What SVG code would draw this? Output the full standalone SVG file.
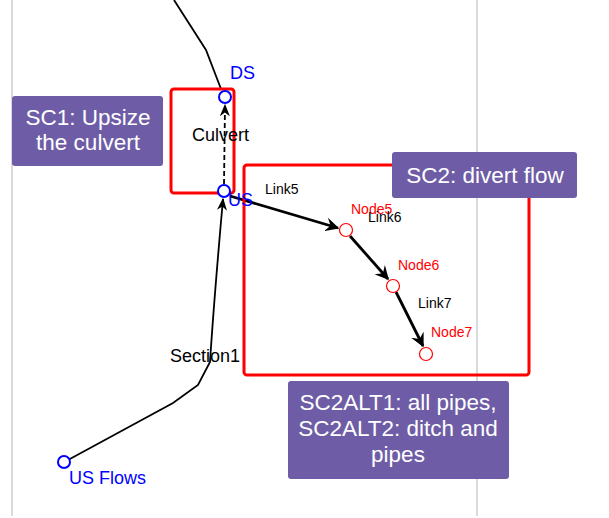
<svg xmlns="http://www.w3.org/2000/svg" width="609" height="518" viewBox="0 0 609 518">
<style>
.grid{stroke:#c0c0c0;stroke-width:1.2;fill:none}
.sec{stroke:#000;stroke-width:1.8;fill:none}
.link{stroke:#000;stroke-width:2.8;fill:none}
.bnode{fill:#fff;stroke:#0000ff;stroke-width:2}
.rnode{fill:#fff;stroke:#ff0000;stroke-width:1.2}
.blab{font-family:"Liberation Sans",Arial,sans-serif;font-size:18px;fill:#0000ff}
.rlab{font-family:"Liberation Sans",Arial,sans-serif;font-size:14px;fill:#ff0000}
.klab{font-family:"Liberation Sans",Arial,sans-serif;font-size:14px;fill:#000}
.mlab{font-family:"Liberation Sans",Arial,sans-serif;font-size:18px;fill:#000}
.box{fill:none;stroke:#ff0000;stroke-width:3}
.note{fill:#6e5da6}
.ntxt{font-family:"Liberation Sans",Arial,sans-serif;font-size:22.5px;fill:#fff;text-anchor:middle}
</style>
<defs>
<marker id="ah" viewBox="0 0 10 10" refX="9" refY="5" markerWidth="5" markerHeight="5" orient="auto" markerUnits="strokeWidth">
<path d="M0,0 L10,5 L0,10 L3.5,5 z" fill="#000"/>
</marker>
<marker id="ahs" viewBox="0 0 10 10" refX="9" refY="5" markerWidth="7" markerHeight="7" orient="auto" markerUnits="strokeWidth">
<path d="M0,1 L10,5 L0,9 L3,5 z" fill="#000"/>
</marker>
</defs>
<line class="grid" x1="12" y1="0" x2="12" y2="516"/>
<line class="grid" x1="477" y1="0" x2="477" y2="516"/>
<g id="connectors">
<polyline class="sec" points="174,0 206,50 221,89"/>
<path class="sec" d="M68,460 L173,403 L198,385 L210,362 Q214,300 223,199" marker-end="url(#ahs)"/>
<line x1="224" y1="184" x2="225" y2="105" stroke="#000" stroke-width="1.8" stroke-dasharray="5,3" marker-end="url(#ahs)"/>
<line class="link" x1="230" y1="196" x2="338" y2="228" marker-end="url(#ah)"/>
<line class="link" x1="350" y1="236" x2="388" y2="279" marker-end="url(#ah)"/>
<line class="link" x1="396" y1="292" x2="423" y2="346" marker-end="url(#ah)"/>
</g>
<g id="box-sc1"><rect class="box" x="171" y="89" width="63" height="104" rx="3"/></g>
<g id="box-sc2"><rect class="box" x="244" y="165" width="285" height="210" rx="3"/></g>
<g id="node-ds"><circle class="bnode" cx="225" cy="97" r="6"/><text class="blab" x="230" y="79">DS</text></g>
<g id="node-us"><circle class="bnode" cx="224" cy="191" r="6"/><text class="blab" x="228" y="206">US</text></g>
<g id="node-usflows"><circle class="bnode" cx="64" cy="462" r="6"/><text class="blab" x="69" y="484">US Flows</text></g>
<g id="node5"><circle class="rnode" cx="346" cy="230" r="6.5"/><text class="rlab" x="351" y="214">Node5</text></g>
<g id="node6"><circle class="rnode" cx="393" cy="286" r="6.5"/><text class="rlab" x="398" y="270">Node6</text></g>
<g id="node7"><circle class="rnode" cx="426" cy="354" r="6.5"/><text class="rlab" x="431" y="337">Node7</text></g>
<g id="labels">
<text class="mlab" x="192" y="141">Culvert</text>
<text class="mlab" x="170" y="362">Section1</text>
<text class="klab" x="265" y="194">Link5</text>
<text class="klab" x="368" y="222">Link6</text>
<text class="klab" x="418" y="308">Link7</text>
</g>
<g id="note-sc1"><rect class="note" x="12" y="96" width="151" height="70" rx="3"/><text class="ntxt" x="88" y="125">SC1: Upsize</text><text class="ntxt" x="88" y="150">the culvert</text></g>
<g id="note-sc2"><rect class="note" x="392" y="152" width="185" height="46" rx="3"/><text class="ntxt" x="485" y="183">SC2: divert flow</text></g>
<g id="note-sc2alt"><rect class="note" x="288" y="381" width="221" height="98" rx="3"/><text class="ntxt" x="398" y="410">SC2ALT1: all pipes,</text><text class="ntxt" x="398" y="436">SC2ALT2: ditch and</text><text class="ntxt" x="398" y="462">pipes</text></g>
</svg>
